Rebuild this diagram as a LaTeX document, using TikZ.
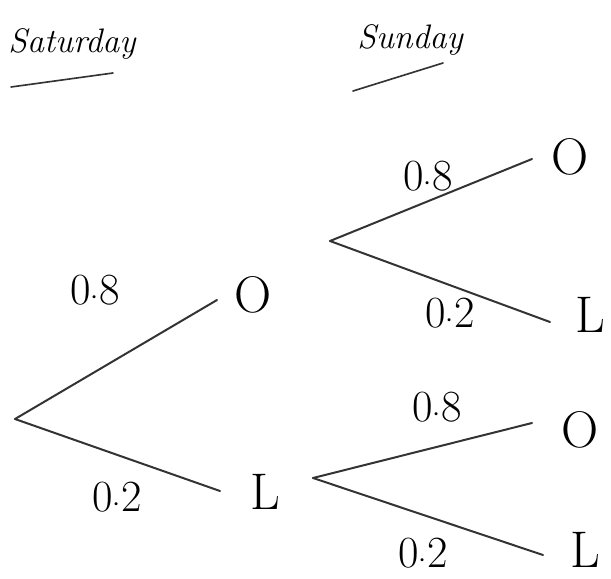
\documentclass[tikz,border=0pt]{standalone}
\usepackage{tikz}
\usetikzlibrary{positioning}

\begin{document}
\begin{tikzpicture}[x=0.03cm, y=-0.03cm,
  branch/.style={line width=1.7pt, draw=black!80, line cap=round},
  title/.style={font=\fontsize{29}{32}\selectfont\itshape},
  prob/.style={font=\fontsize{38}{40}\selectfont},
  leaf/.style={font=\fontsize{44}{48}\selectfont}]
\useasboundingbox (0,0) rectangle (611,578);
% day headings
\node[title] (satT) at (72,44) {Saturday};
\node[title] (sunT) at (410,40) {Sunday};
\draw[branch, line width=1.4pt] (11,87) -- (113,73);
\draw[branch, line width=1.4pt] (353,91) -- (443,63);
% roots of the tree
\coordinate (sat) at (15,419);
\coordinate (sunO) at (330,241);
\coordinate (sunL) at (313,478);
\foreach \root/\nm/\ex/\ey/\ltr/\lx/\ly/\p/\px/\py in {%
  sat/satO/217/300/O/253/295/8/95/290,%
  sat/satL/220/491/L/265/492/2/117/497,%
  sunO/ooO/532/159/O/570/157/8/428/176,%
  sunO/ooL/550/322/L/590/315/2/450/313,%
  sunL/loO/532/423/O/580/430/8/437/407,%
  sunL/loL/543/555/L/585/550/2/423/553%
} {
  \coordinate (\nm) at (\ex,\ey);
  \draw[branch] (\root) -- (\nm);
  \node[leaf] (\nm-lf) at (\lx,\ly) {\ltr};
  \node[prob] (\nm-p) at (\px,\py) {0$\cdot$\p};
}
\end{tikzpicture}
\end{document}
